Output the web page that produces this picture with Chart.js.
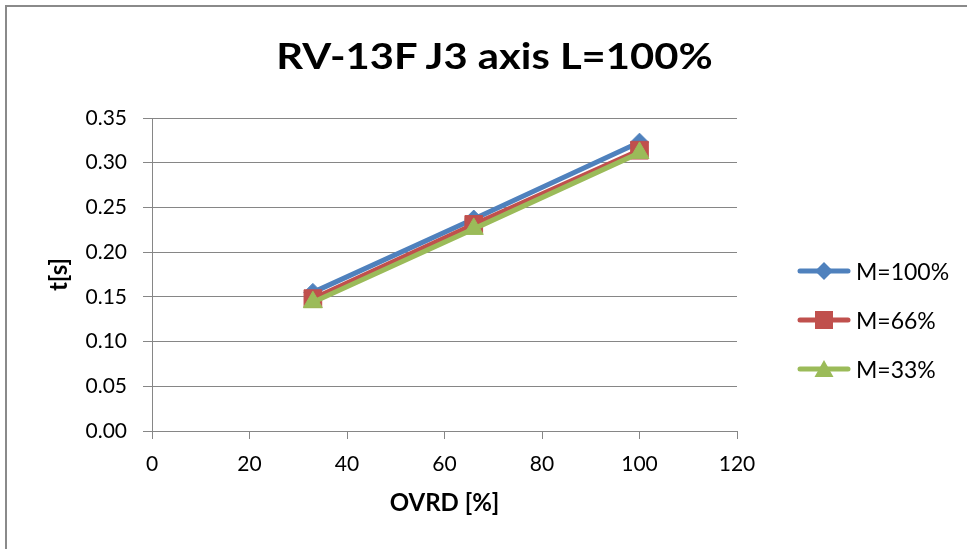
<!DOCTYPE html>
<html>
<head>
<meta charset="utf-8">
<title>RV-13F J3 axis L=100%</title>
<script src="https://cdn.jsdelivr.net/npm/chart.js@4/dist/chart.umd.min.js"></script>
<style>
  html, body { margin: 0; padding: 0; background: #fff; overflow: hidden; }
  #wrap { position: relative; width: 967px; height: 549px; font-family: 'Lato', sans-serif; color: #000; }
  #frame { position: absolute; left: 5px; top: 5px; width: 1000px; height: 600px; border: 2px solid #8a8a8a; box-sizing: border-box; }
  #chart { position: absolute; left: 0; top: 0; }
  #title { position: absolute; left: 0; top: 33px; width: 989px; text-align: center; font-weight: bold; font-size: 36px; line-height: 44px; white-space: nowrap; transform: scaleX(1.16); transform-origin: 494.5px 0; }
  #legend { position: absolute; left: 797px; top: 246px; }
  .item { display: flex; align-items: center; height: 49px; font-size: 23px; }
  .item svg { margin-right: 5px; }
</style>
</head>
<body>
<div id="wrap">
  <div id="frame"></div>
  <canvas id="chart" width="967" height="549"></canvas>
  <div id="title">RV-13F J3 axis L=100%</div>
  <div id="legend"></div>
</div>
<script>
// OVRD settings and measured times per load
const ovrd = [33, 66, 100];
const seriesNames = ['M=100%', 'M=66%', 'M=33%'];
const tM100 = [0.155, 0.237, 0.323];
const tM66 = [0.148, 0.231, 0.314];
const tM33 = [0.144, 0.226, 0.311];

// axis ranges: [min, max, step]
const xRange = [0, 120, 20];
const yRange = [0, 0.35, 0.05];

const colors = ['#4f81bd', '#c0504d', '#9bbb59'];
const markers = ['rectRot', 'rect', 'triangle'];
const markerRadius = [9, 12.5, 11];
const gridColor = '#868686';

Chart.defaults.font.family = 'Lato';
Chart.defaults.color = '#000';

function makeSeries(i, values) {
    return {
        label: seriesNames[i],
        data: ovrd.map((x, k) => ({ x: x, y: values[k] })),
        showLine: true,
        borderColor: colors[i],
        backgroundColor: colors[i],
        borderWidth: 5,
        borderCapStyle: 'round',
        borderJoinStyle: 'round',
        pointStyle: markers[i],
        pointRadius: markerRadius[i],
        pointBorderWidth: 1,
        pointBorderColor: colors[i],
        pointBackgroundColor: colors[i],
        order: 3 - i   // later series on top
    };
}

const ctx = document.getElementById('chart').getContext('2d');
const chart = new Chart(ctx, {
    type: 'scatter',
    data: {
        datasets: [makeSeries(0, tM100), makeSeries(1, tM66), makeSeries(2, tM33)]
    },
    options: {
        responsive: false,
        animation: false,
        layout: { padding: { left: 20, right: 230, top: 118, bottom: 0 } },
        plugins: {
            legend: { display: false },
            title: { display: false },
            tooltip: { enabled: false }
        },
        scales: {
            x: {
                type: 'linear',
                min: xRange[0], max: xRange[1],
                ticks: { stepSize: xRange[2], font: { size: 21 }, padding: 13 },
                grid: { drawOnChartArea: false, drawTicks: true, tickLength: 8, color: gridColor },
                border: { color: gridColor },
                title: { display: true, text: 'OVRD [%]', font: { size: 24, weight: 'bold' }, padding: { top: 0, bottom: 31 } },
                afterFit: (scale) => { scale.height = 118; }
            },
            y: {
                type: 'linear',
                min: yRange[0], max: yRange[1],
                ticks: { stepSize: yRange[2], font: { size: 21 }, padding: 16, callback: (v) => v.toFixed(2) },
                grid: { drawTicks: true, tickLength: 9, color: gridColor },
                border: { color: gridColor },
                title: { display: true, text: 't[s]', font: { size: 24, weight: 'bold' }, padding: { top: 25, bottom: 0 } },
                afterFit: (scale) => { scale.width = 132; }
            }
        }
    }
});

// legend: line sample with marker, then series name
function markerSvg(i) {
    const c = colors[i];
    if (markers[i] === 'rectRot') {
        return `<polygon points="27,3 36,12 27,21 18,12" fill="${c}"/>`;
    }
    if (markers[i] === 'rect') {
        return `<rect x="18" y="3" width="18" height="18" fill="${c}"/>`;
    }
    return `<polygon points="27,3 36.5,20 17.5,20" fill="${c}"/>`;
}

const legendEl = document.getElementById('legend');
seriesNames.forEach((name, i) => {
    const row = document.createElement('div');
    row.className = 'item';
    row.innerHTML =
        `<svg width="54" height="24" viewBox="0 0 54 24">` +
        `<line x1="3" y1="12" x2="51" y2="12" stroke="${colors[i]}" stroke-width="5" stroke-linecap="round"/>` +
        markerSvg(i) + `</svg><span>${name}</span>`;
    legendEl.appendChild(row);
});
</script>
</body>
</html>
